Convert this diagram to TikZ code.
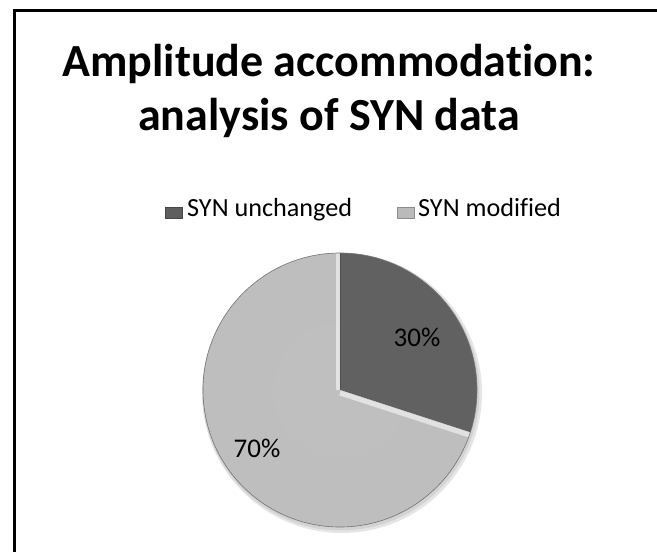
\documentclass[tikz,border=0pt]{standalone}
\usepackage{fontspec}
\setmainfont{Carlito}[Ligatures=NoCommon]
\usetikzlibrary{positioning,calc}

\colorlet{synunch}{black!63}
\colorlet{synmod}{black!27}
% slices get a slightly darker rim near the edge
\pgfdeclareradialshading{darkrim}{\pgfpoint{0bp}{0bp}}{color(0bp)=(black!62); color(42bp)=(black!62); color(50bp)=(black!74)}
\pgfdeclareradialshading{lightrim}{\pgfpoint{0bp}{0bp}}{color(0bp)=(black!25); color(42bp)=(black!26); color(50bp)=(black!40)}

\begin{document}
\begin{tikzpicture}[x=1pt,y=1pt,
    titletext/.style={font=\fontsize{46}{54}\selectfont\bfseries, anchor=base, inner sep=0pt},
    legendtext/.style={font=\fontsize{26.2}{31}\selectfont, anchor=base west, inner sep=0pt},
    pctlabel/.style={font=\fontsize{27}{32}\selectfont, inner sep=0pt},
    keybox/.style={minimum width=17pt, minimum height=11pt, inner sep=0pt, draw=#1!75!black, fill=#1},
]
    \useasboundingbox (0,0) rectangle (657,552);
    \fill[white] (0,0) rectangle (657,552);
    % chart frame, only left and top edges are on the page
    \draw[line width=3pt] (14,0) -- (14,541) -- (657,541);

    \node[titletext] (title1) at (329,475) {Amplitude accommodation:};
    \node[titletext] (title2) at (329,421) {analysis of SYN data};

    % legend
    \node[keybox=synunch] (key1) at (174,339.5) {};
    \node[legendtext] (leg1) at (187,335) {SYN unchanged};
    \node[keybox=synmod] (key2) at (406,339.5) {};
    \node[legendtext] (leg2) at (418,335) {SYN modified};

    % pie
    \coordinate (c) at (340,162);
    \def\pieR{137}
    \fill[black, opacity=0.10] (342,159) circle (\pieR+3);
    \fill[black, opacity=0.08] (341,160) circle (\pieR+1.5);
    \begin{scope}
        \clip (c) -- ++(90:\pieR) arc[start angle=90, end angle=-18, radius=\pieR] -- cycle;
        \shade[shading=darkrim] (c) circle (\pieR);
        \draw[black!75, line width=2pt] (c) -- ++(90:\pieR);
    \end{scope}
    \begin{scope}
        \clip (c) -- ++(-18:\pieR) arc[start angle=-18, end angle=-270, radius=\pieR] -- cycle;
        \shade[shading=lightrim] (c) circle (\pieR);
        % bevel highlight along the cut edges
        \draw[white, opacity=0.55, line width=4pt] ($(c)+(-2,0)$) -- ++(90:\pieR);
        \draw[white, opacity=0.55, line width=5pt] ($(c)+(0,-3)$) -- ++(-18:\pieR);
    \end{scope}
    \draw[black!55, line width=0.6pt] (c) circle (\pieR);

    \node[pctlabel] (p30) at (417,215) {30\%};
    \node[pctlabel] (p70) at (257,104) {70\%};
\end{tikzpicture}
\end{document}
